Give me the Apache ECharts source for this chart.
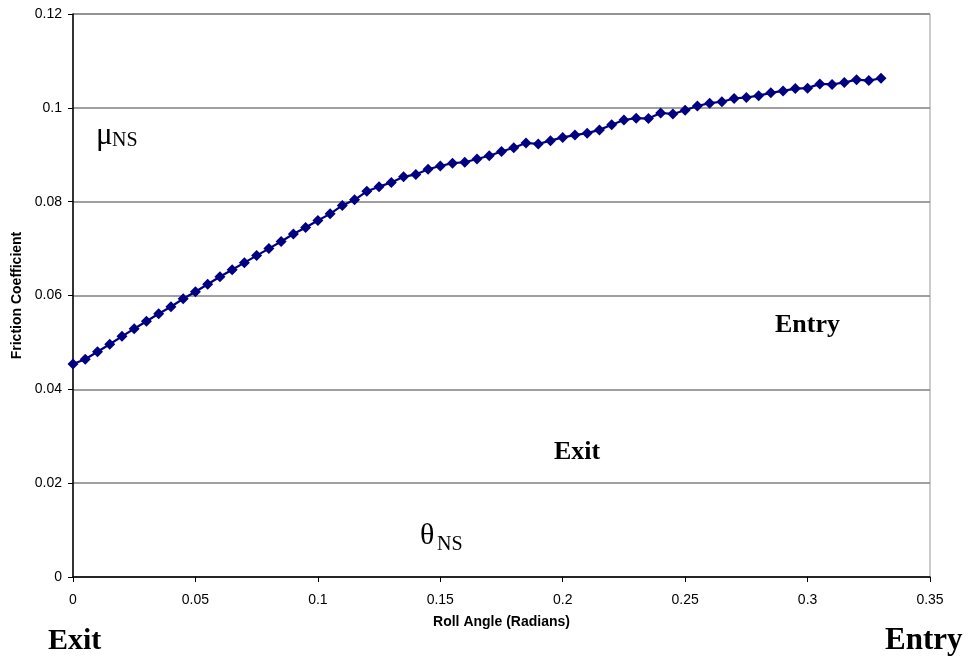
<!DOCTYPE html>
<html>
<head>
<meta charset="utf-8">
<script src="https://cdn.jsdelivr.net/npm/echarts@6/dist/echarts.min.js"></script>
<style>html,body{margin:0;padding:0;background:#fff}#chart{width:970px;height:660px}</style>
</head>
<body>
<div id="chart"></div>
<script>
var rollAngle = [0,0.005,0.01,0.015,0.02,0.025,0.03,0.035,0.04,0.045,0.05,0.055,0.06,0.065,0.07,0.075,0.08,0.085,0.09,0.095,0.1,0.105,0.11,0.115,0.12,0.125,0.13,0.135,0.14,0.145,0.15,0.155,0.16,0.165,0.17,0.175,0.18,0.185,0.19,0.195,0.2,0.205,0.21,0.215,0.22,0.225,0.23,0.235,0.24,0.245,0.25,0.255,0.26,0.265,0.27,0.275,0.28,0.285,0.29,0.295,0.3,0.305,0.31,0.315,0.32,0.325,0.33];
var frictionCoef = [0.0454,0.0464,0.0480,0.0496,0.0513,0.0529,0.0545,0.0561,0.0576,0.0593,0.0608,0.0624,0.0640,0.0655,0.0670,0.0685,0.0700,0.0715,0.0731,0.0745,0.0760,0.0774,0.0792,0.0804,0.0822,0.0832,0.0841,0.0853,0.0858,0.0869,0.0876,0.0882,0.0884,0.0891,0.0898,0.0907,0.0915,0.0925,0.0923,0.0930,0.0937,0.0942,0.0946,0.0953,0.0964,0.0974,0.0978,0.0977,0.0989,0.0987,0.0995,0.1004,0.1010,0.1013,0.1020,0.1022,0.1026,0.1032,0.1036,0.1041,0.1042,0.1051,0.1050,0.1054,0.1060,0.1058,0.1063];
var xTitle = 'Roll Angle (Radians)';
var yTitle = 'Friction Coefficient';

var sans = 'Liberation Sans, Arial, sans-serif';
var serif = 'Liberation Serif, Times New Roman, serif';
var pts = rollAngle.map(function (x, i) { return [x, frictionCoef[i]]; });
function fmt(v) { return String(+v.toFixed(4)); }

var chart = echarts.init(document.getElementById('chart'));
chart.setOption({
  animation: false,
  backgroundColor: '#fff',
  grid: { left: 73, right: 40, top: 14, bottom: 83, show: true, borderColor: '#999', borderWidth: 1, outerBoundsMode: 'none', containLabel: false },
  xAxis: {
    type: 'value', min: 0, max: 0.35, interval: 0.05,
    name: xTitle, nameLocation: 'middle', nameGap: 38,
    nameTextStyle: { fontFamily: sans, fontWeight: 'bold', fontSize: 14, color: '#000' },
    axisLine: { show: true, onZero: false, lineStyle: { color: '#000', width: 1.5 } },
    axisTick: { show: true, length: 5, lineStyle: { color: '#000' } },
    axisLabel: { margin: 16, fontFamily: sans, fontSize: 14, color: '#000', formatter: fmt },
    splitLine: { show: false }
  },
  yAxis: {
    type: 'value', min: 0, max: 0.12, interval: 0.02,
    name: yTitle, nameLocation: 'middle', nameGap: 47, nameRotate: 90,
    nameTextStyle: { fontFamily: sans, fontWeight: 'bold', fontSize: 14, color: '#000' },
    axisLine: { show: true, onZero: false, lineStyle: { color: '#000', width: 1.5 } },
    axisTick: { show: true, length: 5, lineStyle: { color: '#000' } },
    axisLabel: { margin: 11, fontFamily: sans, fontSize: 14, color: '#000', formatter: fmt },
    splitLine: { show: true, lineStyle: { color: '#808080', width: 1.5 } }
  },
  series: [{
    type: 'line', data: pts, symbol: 'diamond', symbolSize: 11, showSymbol: true,
    lineStyle: { color: '#000080', width: 2.2 },
    itemStyle: { color: '#000080' }
  }],
  graphic: [
    { type: 'text', left: 96, top: 120, style: { text: 'μ', font: '31px ' + serif, fill: '#000' } },
    { type: 'text', left: 112, top: 131, style: { text: 'NS', font: '20px ' + serif, fill: '#000' } },
    { type: 'text', left: 420, top: 521, style: { text: 'θ', font: '30px ' + serif, fill: '#000' } },
    { type: 'text', left: 437, top: 535, style: { text: 'NS', font: '20px ' + serif, fill: '#000' } },
    { type: 'text', left: 775, top: 312, style: { text: 'Entry', font: 'bold 26px ' + serif, fill: '#000' } },
    { type: 'text', left: 554, top: 439, style: { text: 'Exit', font: 'bold 26px ' + serif, fill: '#000' } },
    { type: 'text', left: 48, top: 626, style: { text: 'Exit', font: 'bold 30px ' + serif, fill: '#000' } },
    { type: 'text', left: 885, top: 625, style: { text: 'Entry', font: 'bold 31px ' + serif, fill: '#000' } }
  ]
});
</script>
</body>
</html>
